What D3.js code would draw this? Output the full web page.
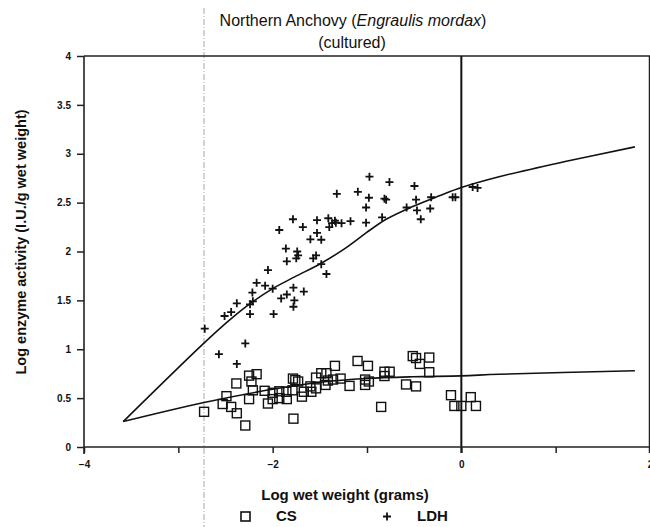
<!DOCTYPE html>
<html><head><meta charset="utf-8">
<script src="https://cdn.jsdelivr.net/npm/d3@7"></script>
<style>
body{margin:0;background:#fff;}
svg{display:block;font-family:"Liberation Sans",Arial,sans-serif;}
</style></head>
<body><svg id="c" width="650" height="527"></svg>
<script>
// ---- data ----
const ldhPoints = [
 [-2.72,1.21],[-2.51,1.34],[-2.44,1.38],[-2.38,1.47],[-2.24,1.46],[-2.21,1.49],[-2.215,1.58],
 [-2.17,1.68],[-2.08,1.65],[-2.05,1.81],[-2.00,1.62],[-2.24,1.36],[-1.99,1.36],[-1.91,1.52],
 [-1.85,1.56],[-1.78,1.63],[-1.77,1.50],[-1.78,1.435],[-1.67,1.59],[-1.93,2.22],[-1.785,2.33],
 [-1.68,2.25],[-1.53,2.32],[-1.86,2.03],[-1.85,1.90],[-1.74,2.00],[-1.73,1.96],[-1.75,1.93],
 [-1.60,2.125],[-1.53,2.19],[-1.485,2.12],[-1.57,1.93],[-1.54,1.96],[-1.485,1.87],[-1.43,1.77],
 [-1.41,2.34],[-1.34,2.315],[-1.33,2.295],[-1.37,2.29],[-1.40,2.25],[-1.27,2.29],[-1.175,2.31],
 [-1.32,2.59],[-1.097,2.61],[-0.974,2.765],[-0.98,2.55],[-1.01,2.45],[-1.01,2.295],[-0.762,2.71],
 [-0.815,2.54],[-0.797,2.53],[-0.84,2.35],[-0.58,2.45],[-0.497,2.67],[-0.48,2.53],[-0.47,2.42],
 [-0.43,2.33],[-0.32,2.555],[-0.33,2.44],[-0.092,2.555],[-0.063,2.555],[0.12,2.66],[0.172,2.65],
 [-2.29,1.06],[-2.57,0.95],[-2.38,0.85]
];
const csPoints = [
 [-2.727,0.36],[-2.49,0.52],[-2.53,0.44],[-2.44,0.41],[-2.38,0.345],[-2.29,0.22],[-2.385,0.65],
 [-2.25,0.73],[-2.17,0.745],[-2.225,0.67],[-2.21,0.58],[-2.25,0.49],[-2.085,0.575],[-2.05,0.445],
 [-2.00,0.555],[-2.00,0.49],[-1.93,0.57],[-1.93,0.50],[-1.855,0.565],[-1.85,0.49],[-1.785,0.70],
 [-1.76,0.685],[-1.73,0.67],[-1.79,0.58],[-1.78,0.29],[-1.69,0.515],[-1.67,0.565],[-1.59,0.565],
 [-1.60,0.62],[-1.54,0.71],[-1.54,0.60],[-1.485,0.755],[-1.43,0.755],[-1.415,0.68],[-1.44,0.635],
 [-1.34,0.83],[-1.36,0.69],[-1.28,0.70],[-1.185,0.625],[-1.10,0.88],[-0.99,0.83],[-1.02,0.69],
 [-0.98,0.67],[-1.02,0.635],[-0.85,0.41],[-0.815,0.77],[-0.76,0.77],[-0.815,0.726],[-0.586,0.64],
 [-0.48,0.62],[-0.515,0.93],[-0.48,0.91],[-0.44,0.85],[-0.34,0.915],[-0.34,0.765],[-0.11,0.53],
 [-0.074,0.42],[0.0,0.42],[0.10,0.51],[0.155,0.42]
];
const ldhFit = [[-3.584,0.26],[-2.72,1.07],[-2.455,1.30],[-2.225,1.476],[-2.0,1.62],
 [-1.767,1.74],[-1.485,1.88],[-1.22,2.04],[-1.01,2.19],[-0.797,2.33],[-0.515,2.46],[-0.233,2.57],
 [0.0,2.655],[0.4,2.765],[1.1,2.92],[1.84,3.07]];
const csFit = [[-3.584,0.26],[-2.727,0.455],[-2.0,0.59],[-1.47,0.665],[-1.01,0.70],
 [-0.515,0.718],[0.0,0.728],[0.4,0.744],[1.84,0.78]];
const xTicks = [-4,-3,-2,-1,0,1,2];
const xTickLabels = {"-4":"\u22124","-2":"\u22122","0":"0","2":"2"};
const yTicks = [0,0.5,1,1.5,2,2.5,3,3.5,4];
const scanLineX = -2.728;

// ---- chart ----
const svg = d3.select("#c");
const x = d3.scaleLinear().domain([-4,2]).range([84,650]);
const y = d3.scaleLinear().domain([0,4]).range([447,56]);

// scan artifact line
svg.append("line").attr("x1",x(scanLineX)).attr("x2",x(scanLineX)).attr("y1",8).attr("y2",527)
  .attr("stroke","#b5b5b5").attr("stroke-width",1.2).attr("stroke-dasharray","6,2,1,2");

// title
const t = svg.append("text").attr("x",353).attr("y",26).attr("text-anchor","middle")
  .attr("font-size",16).attr("fill","#111");
t.append("tspan").text("Northern Anchovy (");
t.append("tspan").attr("font-style","italic").text("Engraulis mordax");
t.append("tspan").text(")");
svg.append("text").attr("x",352).attr("y",48).attr("text-anchor","middle")
  .attr("font-size",16).attr("fill","#111").text("(cultured)");

// frame
svg.append("line").attr("x1",x(-4)).attr("x2",x(2)).attr("y1",y(4)).attr("y2",y(4))
  .attr("stroke","#222").attr("stroke-width",1.5);
svg.append("line").attr("x1",x(2)-0.5).attr("x2",x(2)-0.5).attr("y1",y(4)).attr("y2",y(0)+6)
  .attr("stroke","#222").attr("stroke-width",1.5);
svg.append("line").attr("x1",x(0)).attr("x2",x(0)).attr("y1",y(4)).attr("y2",y(0)+6)
  .attr("stroke","#111").attr("stroke-width",2);

// axes
const yAxis = d3.axisLeft(y).tickValues(yTicks).tickSize(7).tickPadding(6)
  .tickFormat(d=>d3.format("")(d));
const gy = svg.append("g").attr("transform",`translate(${x(-4)},0)`).call(yAxis);
gy.select(".domain").attr("stroke","#222").attr("stroke-width",1.6).attr("d",`M0,${y(4)}V${y(0)+7}`);
gy.selectAll(".tick line").attr("stroke","#222").attr("stroke-width",1.5);
gy.selectAll(".tick text").attr("font-family","'Liberation Sans',Arial,sans-serif")
  .attr("font-size",10).attr("font-weight","bold").attr("fill","#111");

const xAxis = d3.axisBottom(x).tickValues(xTicks).tickSize(6).tickPadding(8)
  .tickFormat(d=>xTickLabels[String(d)]||"");
const gx = svg.append("g").attr("transform",`translate(0,${y(0)})`).call(xAxis);
gx.select(".domain").attr("stroke","#222").attr("stroke-width",1.6).attr("d",`M${x(-4)},0H${x(2)}`);
gx.selectAll(".tick line").attr("stroke","#222").attr("stroke-width",1.5);
gx.selectAll(".tick text").attr("font-family","'Liberation Sans',Arial,sans-serif")
  .attr("font-size",10).attr("font-weight","bold").attr("fill","#111");

// axis titles
svg.append("text").attr("transform","translate(26,242) rotate(-90)").attr("text-anchor","middle")
  .attr("font-size",14.5).attr("font-weight","bold").attr("fill","#111")
  .text("Log enzyme activity (I.U./g wet weight)");
svg.append("text").attr("x",345).attr("y",500).attr("text-anchor","middle")
  .attr("font-size",15).attr("font-weight","bold").attr("fill","#111")
  .text("Log wet weight (grams)");

// legend
svg.append("rect").attr("x",241).attr("y",512).attr("width",9).attr("height",9)
  .attr("fill","none").attr("stroke","#111").attr("stroke-width",1.6);
svg.append("text").attr("x",276).attr("y",521).attr("font-size",15).attr("font-weight","bold")
  .attr("fill","#111").text("CS");
svg.append("path").attr("d",`M${383},516.5h8M${387},512.5v8`).attr("stroke","#111").attr("stroke-width",1.8);
svg.append("text").attr("x",417).attr("y",521).attr("font-size",15).attr("font-weight","bold")
  .attr("fill","#111").text("LDH");

// fit lines
const line = d3.line().x(d=>x(d[0])).y(d=>y(d[1])).curve(d3.curveCatmullRom.alpha(0.5));
svg.append("path").datum(ldhFit).attr("d",line).attr("fill","none").attr("stroke","#111").attr("stroke-width",1.6);
svg.append("path").datum(csFit).attr("d",line).attr("fill","none").attr("stroke","#111").attr("stroke-width",1.6);

// points
svg.append("g").selectAll("rect").data(csPoints).join("rect")
  .attr("x",d=>x(d[0])-4.5).attr("y",d=>y(d[1])-4.5).attr("width",9).attr("height",9)
  .attr("fill","none").attr("stroke","#111").attr("stroke-width",1.4);
svg.append("g").selectAll("path").data(ldhPoints).join("path")
  .attr("d",d=>`M${x(d[0])-4},${y(d[1])}h8M${x(d[0])},${y(d[1])-4}v8`)
  .attr("stroke","#111").attr("stroke-width",1.8);
</script></body></html>
